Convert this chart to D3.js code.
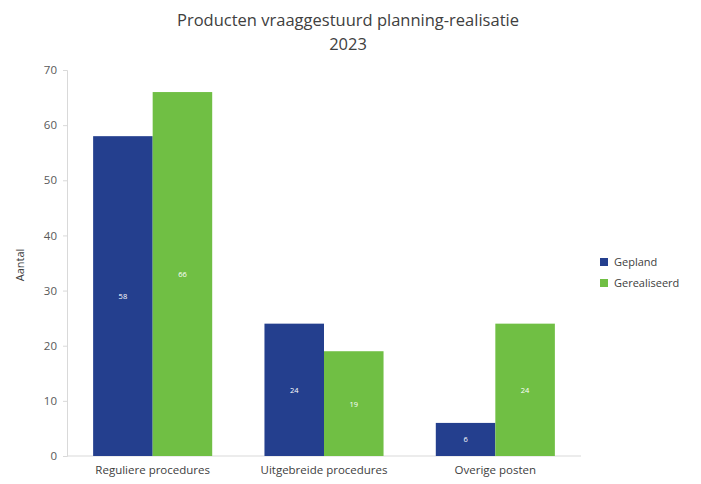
<!DOCTYPE html>
<html><head><meta charset="utf-8">
<script src="https://cdn.jsdelivr.net/npm/d3@7"></script>
<style>body{margin:0;background:#fff;} text{font-family:"Open Sans","Liberation Sans",sans-serif;}</style>
</head><body>
<svg id="c" width="701" height="484"></svg>
<script>
const categories = ["Reguliere procedures", "Uitgebreide procedures", "Overige posten"];
const seriesNames = ["Gepland", "Gerealiseerd"];
const gepland = [58, 24, 6];
const gerealiseerd = [66, 19, 24];
const yTicks = [0, 10, 20, 30, 40, 50, 60, 70];
const colors = ["#243F8E", "#70BF44"];

(function(){
const svg = d3.select("#c");
const mLeft = 67, mRight = 581, mTop = 70, mBottom = 456;
const x = d3.scaleBand().domain(categories).range([mLeft, mRight]).paddingInner(0.305).paddingOuter(0.1525);
const xs = d3.scaleBand().domain(seriesNames).range([0, x.bandwidth()]);
const y = d3.scaleLinear().domain([0, 70]).range([mBottom, mTop]);
const values = [gepland, gerealiseerd];

svg.append("text").attr("x", 348).attr("y", 26).attr("text-anchor", "middle").attr("font-size", 16.5).attr("fill", "#404040").text("Producten vraaggestuurd planning-realisatie");
svg.append("text").attr("x", 348).attr("y", 50).attr("text-anchor", "middle").attr("font-size", 16.5).attr("fill", "#404040").text("2023");

const yAxis = svg.append("g").attr("transform", `translate(${mLeft},0)`).call(d3.axisLeft(y).tickValues(yTicks).tickSize(4).tickPadding(6));
yAxis.select(".domain").attr("stroke", "#d9d9d9");
yAxis.selectAll(".tick line").attr("stroke", "#d9d9d9");
yAxis.selectAll("text").attr("fill", "#595959").attr("font-size", 11.5).style("font-family", "'Open Sans',sans-serif");

const xAxis = svg.append("g").attr("transform", `translate(0,${mBottom})`).call(d3.axisBottom(x).tickSize(0).tickPadding(10));
xAxis.select(".domain").attr("stroke", "#d9d9d9").attr("d", `M${mLeft},0H${mRight}`);
xAxis.selectAll("text").attr("fill", "#404040").attr("font-size", 11.5).style("font-family", "'Open Sans',sans-serif");

svg.append("text").attr("transform", `translate(24,${(mTop+mBottom)/2 + 2}) rotate(-90)`).attr("text-anchor", "middle").attr("font-size", 11).attr("fill", "#404040").text("Aantal");

seriesNames.forEach((s, si) => {
  const g = svg.append("g");
  categories.forEach((c, ci) => {
    const v = values[si][ci];
    const bx = x(c) + xs(s);
    g.append("rect").attr("x", bx).attr("y", y(v)).attr("width", xs.bandwidth()).attr("height", y(0) - y(v)).attr("fill", colors[si]);
    g.append("text").attr("x", bx + xs.bandwidth()/2).attr("y", (y(v) + y(0))/2 + 3).attr("text-anchor", "middle").attr("font-size", 7.5).attr("fill", "#fff").text(v);
  });
});

const leg = svg.append("g");
seriesNames.forEach((s, i) => {
  leg.append("rect").attr("x", 600).attr("y", 258 + i*21).attr("width", 8).attr("height", 8).attr("fill", colors[i]);
  leg.append("text").attr("x", 614).attr("y", 266 + i*21).attr("font-size", 11).attr("fill", "#404040").text(s);
});
})();
</script>
</body></html>
